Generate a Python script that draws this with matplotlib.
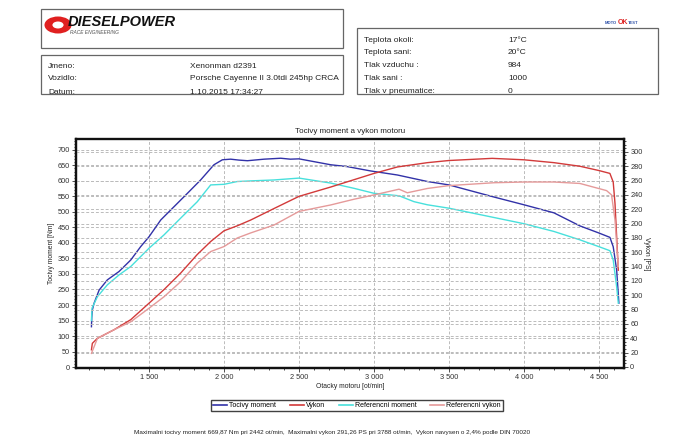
"Dyno chart: torque and power vs engine speed"

import matplotlib
matplotlib.use("Agg")
import matplotlib.pyplot as plt
from matplotlib.lines import Line2D
from matplotlib.patches import Rectangle, Circle
from matplotlib.ticker import FuncFormatter, MultipleLocator

plt.rcParams["font.family"] = ["Liberation Sans", "DejaVu Sans"]

# measured torque [Nm]
rpm_t = [1116, 1118, 1122, 1133, 1167, 1222, 1300, 1378, 1444, 1500, 1578, 1667, 1756,
         1844, 1933, 1989, 2044, 2100, 2156, 2267, 2378, 2442, 2500, 2600, 2711, 2822,
         2978, 3156, 3356, 3500, 3800, 4000, 4200, 4373, 4500, 4573, 4595, 4618, 4633]
torque = [130, 160, 184, 205, 248, 281, 308, 345, 388, 420, 474, 517, 560,
          603, 652, 668, 670, 667, 665, 670, 673, 670, 671, 662, 652, 646,
          632, 619, 598, 587, 548, 523, 497, 455, 432, 418, 388, 313, 206]

# measured power [PS]
rpm_p = [1116, 1122, 1156, 1267, 1378, 1500, 1600, 1711, 1822, 1911, 2000, 2089, 2178,
         2333, 2500, 2711, 3000, 3156, 3356, 3500, 3788, 4000, 4200, 4373, 4500, 4573,
         4595, 4607, 4618, 4629]
power = [24, 33, 40, 52, 66, 89, 108, 131, 157, 175, 190, 197, 205,
         221, 238, 251, 270, 279, 285, 288, 291, 289, 285, 280, 274, 270,
         258, 228, 182, 135]

# reference torque [Nm]
rpm_rt = [1116, 1120, 1156, 1222, 1300, 1378, 1500, 1600, 1711, 1822, 1911, 2000, 2089,
          2178, 2333, 2500, 2711, 2867, 3000, 3167, 3267, 3356, 3500, 3800, 4000, 4200,
          4373, 4500, 4573, 4595, 4618, 4629]
ref_torque = [150, 190, 227, 265, 297, 324, 383, 426, 480, 533, 587, 589, 598,
              600, 603, 609, 593, 576, 560, 552, 533, 523, 512, 482, 462, 437,
              410, 388, 375, 345, 259, 206]

# reference power [PS]
rpm_rp = [1116, 1156, 1267, 1378, 1500, 1600, 1711, 1822, 1911, 2000, 2089, 2178, 2333,
          2500, 2711, 2867, 3000, 3167, 3222, 3356, 3500, 3800, 4000, 4200, 4373, 4551,
          4584, 4607, 4622, 4629]
ref_power = [19, 40, 52, 63, 82, 98, 119, 145, 161, 168, 180, 187, 198,
             217, 226, 234, 240, 248, 243, 249, 253, 257, 258, 258, 256, 246,
             240, 205, 159, 140]

header_left = [("Jmeno:", "Xenonman d2391"),
               ("Vozidlo:", "Porsche Cayenne II 3.0tdi 245hp CRCA"),
               ("Datum:", "1.10.2015 17:34:27")]
header_right = [("Teplota okoli:", "17°C"), ("Teplota sani:", "20°C"),
                ("Tlak vzduchu :", "984"), ("Tlak sani :", "1000"),
                ("Tlak v pneumatice:", "0")]

c_torque = "#3232a8"
c_power = "#d23a3a"
c_ref_torque = "#48e0dc"
c_ref_power = "#e59a9a"

W, H = 700, 440
fig = plt.figure(figsize=(7, 4.4), dpi=100)


def fx(x):
    return x / W


def fy(y):
    return 1 - y / H


# header boxes
for (x0, y0, x1, y1) in [(40.7, 9, 342.7, 48.3), (40.7, 55, 342.7, 94), (356.7, 28.3, 658, 94)]:
    fig.patches.append(Rectangle((fx(x0), fy(y1)), fx(x1 - x0), (y1 - y0) / H,
                                 transform=fig.transFigure, fill=False,
                                 edgecolor="#666666", lw=0.9))

# logo
fig.patches.append(Circle((fx(58), fy(25)), 8.5 / H, transform=fig.transFigure,
                          facecolor="#e02020", edgecolor="none"))
fig.patches.append(Circle((fx(58), fy(25)), 3.5 / H, transform=fig.transFigure,
                          facecolor="white", edgecolor="none"))
fig.text(fx(68), fy(22), "DIESELPOWER", fontsize=10.5, fontweight="bold", style="italic",
         va="center", ha="left", color="#111111")
fig.text(fx(70), fy(32), "RACE ENGINEERING", fontsize=3.5, style="italic",
         va="center", ha="left", color="#555555")

for i, (lab, val) in enumerate(header_left):
    y = 66 + i * 13
    fig.text(fx(48), fy(y), lab, fontsize=6.0, va="center", color="#222222")
    fig.text(fx(190), fy(y), val, fontsize=6.0, va="center", color="#222222")

for i, (lab, val) in enumerate(header_right):
    y = 40.3 + i * 12.7
    fig.text(fx(364), fy(y), lab, fontsize=6.0, va="center", color="#222222")
    fig.text(fx(508), fy(y), val, fontsize=6.0, va="center", color="#222222")

# small test logo
fig.text(fx(617), fy(23), "MOTO", fontsize=3, color="#3355aa", ha="right", va="center",
         fontweight="bold")
fig.text(fx(622.5), fy(23), "OK", fontsize=5, color="#dd2222", ha="center", va="center",
         fontweight="bold")
fig.text(fx(628), fy(23), "TEST", fontsize=3, color="#3355aa", ha="left", va="center",
         fontweight="bold")

# chart
ax = fig.add_axes([fx(76), fy(368), fx(548), 229 / H])
ax2 = ax.twinx()

ax.plot(rpm_t, torque, color=c_torque, lw=1.0)
ax.plot(rpm_rt, ref_torque, color=c_ref_torque, lw=1.0)
ax2.plot(rpm_p, power, color=c_power, lw=1.0)
ax2.plot(rpm_rp, ref_power, color=c_ref_power, lw=1.0)

ax.set_xlim(1013, 4667)
ax.set_ylim(-3, 735)
ax2.set_ylim(-1.4, 318)

ax.xaxis.set_major_locator(MultipleLocator(500))
ax.xaxis.set_minor_locator(MultipleLocator(100))
ax.xaxis.set_major_formatter(FuncFormatter(lambda v, p: f"{int(v):,}".replace(",", " ")))
ax.yaxis.set_major_locator(MultipleLocator(50))
ax.yaxis.set_minor_locator(MultipleLocator(10))
ax2.yaxis.set_major_locator(MultipleLocator(20))
ax2.yaxis.set_minor_locator(MultipleLocator(5))

for a in (ax, ax2):
    a.tick_params(labelsize=5.3, length=3, width=0.6, pad=1.5, colors="#333333")
    a.tick_params(which="minor", length=1.5, width=0.5)
    for s in a.spines.values():
        s.set_linewidth(1.6)
        s.set_color("#111111")
ax.spines["top"].set_color("#666666")

ax.grid(True, which="major", ls=(0, (3, 2)), color="#bbbbbb", lw=0.7)
ax2.grid(True, which="major", axis="y", ls=(0, (3, 2)), color="#bbbbbb", lw=0.7)
ax.set_axisbelow(True)

ax.set_title("Tocivy moment a vykon motoru", fontsize=5.8, pad=4, color="#222222")
ax.set_xlabel("Otacky motoru [ot/min]", fontsize=4.9, labelpad=1, color="#222222")
ax.set_ylabel("Tocivy moment [Nm]", fontsize=4.9, labelpad=2, color="#222222")
ax2.set_ylabel("Vykon [PS]", fontsize=4.9, rotation=270, labelpad=5, color="#222222")

handles = [Line2D([], [], color=c_torque, lw=1.2), Line2D([], [], color=c_power, lw=1.2),
           Line2D([], [], color=c_ref_torque, lw=1.2), Line2D([], [], color=c_ref_power, lw=1.2)]
labels = ["Tocivy moment", "Vykon", "Referencni moment", "Referencni vykon"]
leg = fig.legend(handles, labels, loc="center", bbox_to_anchor=(fx(357), fy(405.5)),
                 ncol=4, fontsize=5.0, frameon=True, fancybox=False, handlelength=2.0,
                 handletextpad=0.3, columnspacing=2.0, borderpad=0.25)
leg.get_frame().set_edgecolor("#111111")
leg.get_frame().set_linewidth(1.0)

fig.text(fx(332), fy(432),
         "Maximalni tocivy moment 669,87 Nm pri 2442 ot/min,  Maximalni vykon 291,26 PS pri "
         "3788 ot/min,  Vykon navysen o 2,4% podle DIN 70020",
         fontsize=4.6, ha="center", va="center", color="#222222")

fig.savefig("out.png", dpi=100)
